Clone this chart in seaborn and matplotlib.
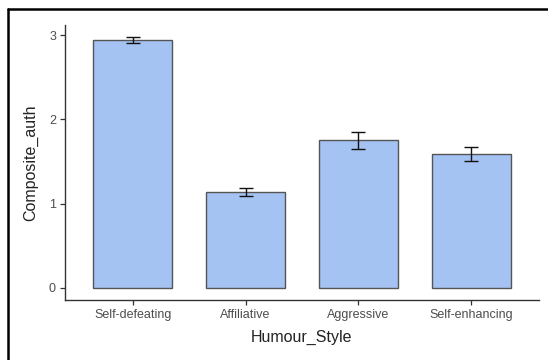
import matplotlib
matplotlib.use("Agg")
import matplotlib.pyplot as plt
from matplotlib.lines import Line2D
import seaborn as sns
import pandas as pd

# valores
humour_styles = ["Self-defeating", "Affiliative", "Aggressive", "Self-enhancing"]
composite_means = [2.94, 1.14, 1.75, 1.59]
composite_se = [0.035, 0.047, 0.105, 0.085]

df = pd.DataFrame({"Humour_Style": humour_styles, "Composite_auth": composite_means})

sns.set_theme(style="ticks")
plt.rcParams["font.family"] = ["Liberation Sans", "DejaVu Sans"]

fig = plt.figure(figsize=(5.48, 3.6), dpi=100)
ax = fig.add_axes([65 / 548, 1 - 300 / 360, 474 / 548, 275 / 360])

sns.barplot(data=df, x="Humour_Style", y="Composite_auth", order=humour_styles,
            color="#A4C2F2", saturation=1, width=0.7, errorbar=None,
            edgecolor="#555555", linewidth=1.0, ax=ax)
ax.errorbar(x=list(range(len(humour_styles))), y=composite_means, yerr=composite_se,
            fmt="none", ecolor="#111111", elinewidth=1.0, capsize=5, capthick=1.0)

ax.set_ylim(-0.145, 3.12)
ax.set_xlim(-0.6, 3.6)
ax.set_yticks([0, 1, 2, 3])
sns.despine(ax=ax)
for side in ["left", "bottom"]:
    ax.spines[side].set_color("#333333")
    ax.spines[side].set_linewidth(1.0)
ax.tick_params(axis="both", colors="#333333", labelcolor="#4D4D4D",
               labelsize=9, length=3.5, width=0.9, pad=3)
ax.set_xlabel("Humour_Style", fontsize=11.5, color="#222222", labelpad=6)
ax.set_ylabel("Composite_auth", fontsize=11.5, color="#222222", labelpad=8)

# moldura do print (topo e esquerda)
fig.add_artist(Line2D([8 / 548, 1], [1 - 9 / 360, 1 - 9 / 360],
                      transform=fig.transFigure, color="black", linewidth=1.8))
fig.add_artist(Line2D([8 / 548, 8 / 548], [0, 1 - 9 / 360],
                      transform=fig.transFigure, color="black", linewidth=1.8))

fig.savefig("out.png", dpi=100)
plt.close(fig)
